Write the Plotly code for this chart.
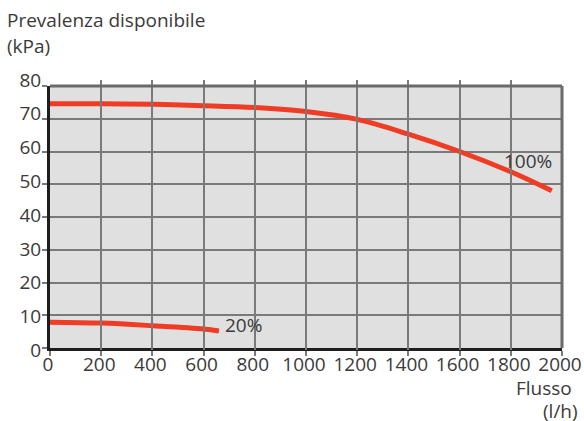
import plotly.graph_objects as go

# Pump curves: available head (kPa) vs flow (l/h)
flow_100 = [0, 200, 400, 600, 800, 1000, 1200, 1400, 1600, 1800, 1960]
head_100 = [74.6, 74.6, 74.4, 74.0, 73.4, 72.2, 69.8, 65.3, 60.0, 53.8, 48.0]

flow_20 = [0, 200, 400, 600, 660]
head_20 = [7.9, 7.6, 6.8, 5.8, 5.2]

x_ticks = list(range(0, 2001, 200))
y_ticks = list(range(0, 81, 10))

curve_color = "#f03c24"
text_color = "#3a3a3a"
font_family = "Open Sans, Noto Sans, sans-serif"
fsize = 19

# Page geometry (pixels)
FIG_W, FIG_H = 584, 421
L, R = 50, 562            # plot left / right
PT, PB = 76, 352          # paper top / bottom
AX_T, AX_B = 86, 348      # plot area top / bottom
LAB_T, LAB_B = 80, 350.3  # y tick label column: where "80" and "0" sit

def px(xp):
    return (xp - L) / (R - L)
def py(yp):
    return (PB - yp) / (PB - PT)

fig = go.Figure()
fig.add_trace(go.Scatter(x=flow_100, y=head_100, mode="lines",
                         line=dict(color=curve_color, width=5, shape="spline"),
                         showlegend=False, hoverinfo="skip"))
fig.add_trace(go.Scatter(x=flow_20, y=head_20, mode="lines",
                         line=dict(color=curve_color, width=5, shape="spline"),
                         showlegend=False, hoverinfo="skip"))
# Carrier for the y tick label column
fig.add_trace(go.Scatter(x=[None], y=[None], yaxis="y2", showlegend=False,
                         hoverinfo="skip"))

# Curve labels
fig.add_annotation(x=1765, y=57.2, text="100%", showarrow=False,
                   xanchor="left", yanchor="middle",
                   font=dict(size=fsize, color=text_color, family=font_family))
fig.add_annotation(x=676, y=7.0, text="20%", showarrow=False,
                   xanchor="left", yanchor="middle",
                   font=dict(size=fsize, color=text_color, family=font_family))

# Axis titles
title_font = dict(size=fsize, color=text_color, family=font_family)
fig.add_annotation(xref="paper", yref="paper", x=px(5), y=py(20),
                   text="Prevalenza disponibile", showarrow=False,
                   xanchor="left", yanchor="middle", font=title_font)
fig.add_annotation(xref="paper", yref="paper", x=px(5), y=py(46),
                   text="(kPa)", showarrow=False,
                   xanchor="left", yanchor="middle", font=title_font)
fig.add_annotation(xref="paper", yref="paper", x=px(574), y=py(388),
                   text="Flusso", showarrow=False,
                   xanchor="right", yanchor="middle", font=title_font)
fig.add_annotation(xref="paper", yref="paper", x=px(580), y=py(411),
                   text="(l/h)", showarrow=False,
                   xanchor="right", yanchor="middle", font=title_font)

# Gray top and right frame edges
fig.add_shape(type="line", xref="x domain", yref="y domain",
              x0=0, x1=1, y0=1, y1=1, line=dict(color="#6a6a6a", width=3), layer="above")
fig.add_shape(type="line", xref="x domain", yref="y domain",
              x0=1, x1=1, y0=0, y1=1, line=dict(color="#6a6a6a", width=3), layer="above")

fig.update_layout(
    width=FIG_W, height=FIG_H,
    margin=dict(l=L, r=FIG_W - R, t=PT, b=FIG_H - PB),
    paper_bgcolor="white",
    plot_bgcolor="rgba(0,0,0,0)",
    font=dict(family=font_family, color=text_color, size=fsize),
)
# Plot-area background
fig.add_shape(type="rect", xref="x domain", yref="y domain",
              x0=0, x1=1, y0=0, y1=1, fillcolor="#e0e0e0",
              line=dict(width=0), layer="below")

fig.update_xaxes(range=[0, 2000], tickvals=x_ticks, ticktext=[str(v) for v in x_ticks],
                 automargin=False,
                 showgrid=True, gridcolor="#7a7a7a", gridwidth=1.5,
                 showline=True, linecolor="#1e1e1e", linewidth=3,
                 ticks="outside", ticklen=5, tickcolor="#7a7a7a", tickwidth=1.5,
                 ticklabelstandoff=-8, ticklabelshift=-2,
                 tickfont=dict(size=fsize, color=text_color), zeroline=False)
fig.update_layout(
    yaxis=dict(range=[0, 80], tickvals=y_ticks, showticklabels=False,
               domain=[py(AX_B), py(AX_T)],
               automargin=False,
               showgrid=True, gridcolor="#7a7a7a", gridwidth=1.5,
               showline=True, linecolor="#1e1e1e", linewidth=3,
               ticks="outside", ticklen=5, tickcolor="#7a7a7a", tickwidth=1.5,
               zeroline=False),
    yaxis2=dict(range=[0, 80], tickvals=y_ticks, ticktext=[str(v) for v in y_ticks],
                domain=[py(LAB_B), py(LAB_T)], anchor="free", position=0,
                side="left", automargin=False,
                showgrid=False, showline=False, zeroline=False,
                ticks="outside", ticklen=5, tickcolor="rgba(0,0,0,0)",
                tickfont=dict(size=fsize, color=text_color)),
)

fig.write_html("out.html")
